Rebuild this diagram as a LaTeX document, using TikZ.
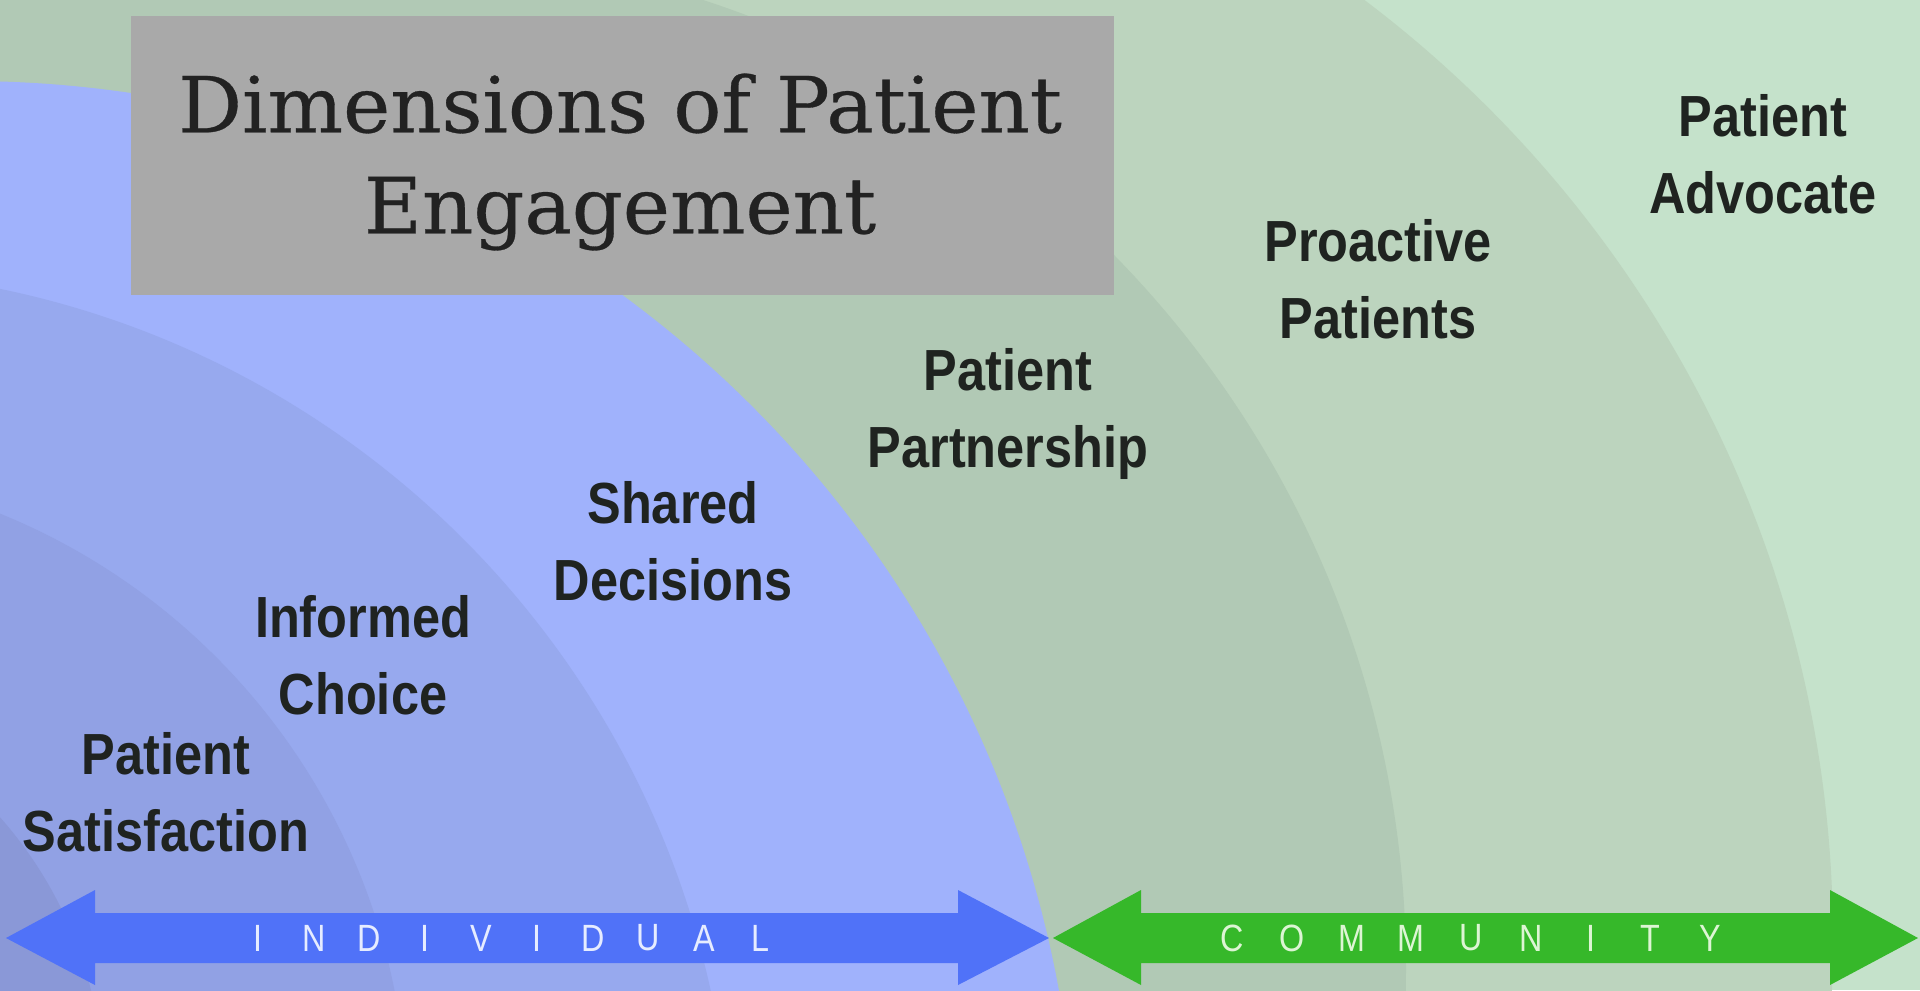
\documentclass[tikz,border=0pt]{standalone}
\usepackage{fontspec}
\usetikzlibrary{positioning,calc}
\setmainfont{Liberation Sans}
\newfontfamily\labelfont[FakeStretch=0.87]{Liberation Sans}
\newfontfamily\titlefont[FakeStretch=1.03,FakeBold=0.4]{DejaVu Serif}
\newfontfamily\capsfont[FakeStretch=0.85]{Liberation Sans}

\definecolor{greenC}{HTML}{C5E2CB}
\definecolor{greenB}{HTML}{BCD4BE}
\definecolor{greenA}{HTML}{B1C9B5}
\definecolor{blueA}{HTML}{A0B2FC}
\definecolor{blueB}{HTML}{97A9EE}
\definecolor{blueC}{HTML}{91A1E4}
\definecolor{blueD}{HTML}{8A98D7}
\definecolor{boxgray}{HTML}{A9A9A9}
\definecolor{indivarrow}{HTML}{5072F8}
\definecolor{commarrow}{HTML}{36B82A}
\definecolor{inktext}{HTML}{1F2320}
\definecolor{titleink}{HTML}{222222}
\definecolor{indivink}{HTML}{E6ECFF}
\definecolor{comminK}{HTML}{DDF5D4}

\begin{document}
\begin{tikzpicture}[x=0.01cm, y=-0.01cm,
      stage/.style     = {align=center, anchor=north, inner sep=0pt, text=inktext,
                          font=\labelfont\bfseries\fontsize{16.5}{21.9}\selectfont},
      spaced/.style    = {inner sep=0pt, font=\capsfont\fontsize{10.8}{12}\selectfont},
      titlebox/.style  = {fill=boxgray, minimum width=9.83cm, minimum height=2.79cm,
                          inner sep=0pt},
      titletext/.style = {align=center, inner sep=0pt, text=titleink,
                          font=\titlefont\fontsize{22}{28.7}\selectfont}
]
   \useasboundingbox (0,0) rectangle (1920,990);
   \clip (0,0) rectangle (1920,990);

   % community rings
   \fill[greenC] (0,0) rectangle (1920,990);
   \fill[greenB] (656,940) circle[radius=1177];
   \fill[greenA] (387,969) circle[radius=1019];
   \fill[greenA] (0,0) rectangle (300,120);

   % individual rings
   \fill[blueA] (-33,1191)  circle[radius=1110];
   \fill[blueB] (-186,1188) circle[radius=918];
   \fill[blueC] (-245,1118) circle[radius=652];
   \fill[blueD] (-307,1089) circle[radius=410];

   % title
   \node[titlebox]  (box)   at (622.5,155.5) {};
   \node[titletext] (title) at (620,162) {Dimensions of Patient\\Engagement};

   % stages
   \node[stage] (satisfaction) at (166,732)  {Patient\\Satisfaction};
   \node[stage] (informed)     at (363,595)  {Informed\\Choice};
   \node[stage] (shared)       at (673,481)  {Shared\\Decisions};
   \node[stage] (partnership)  at (1008,348) {Patient\\Partnership};
   \node[stage] (proactive)    at (1378,219) {Proactive\\Patients};
   \node[stage] (advocate)     at (1763,94)  {Patient\\Advocate};

   % individual arrow
   \fill[indivarrow] (6,938) -- (95,890) -- (95,913) -- (958,913) -- (958,890)
      -- (1049,938) -- (958,985) -- (958,963) -- (95,963) -- (95,985) -- cycle;
   \foreach \ch [count=\i from 0] in {I,N,D,I,V,I,D,U,A,L}
      \node[spaced, text=indivink] (ind\i) at (258+55.8*\i,938) {\ch};

   % community arrow
   \fill[commarrow] (1053,938) -- (1141,890) -- (1141,913) -- (1830,913) -- (1830,890)
      -- (1918,938) -- (1830,985) -- (1830,963) -- (1141,963) -- (1141,985) -- cycle;
   \foreach \ch [count=\i from 0] in {C,O,M,M,U,N,I,T,Y}
      \node[spaced, text=comminK] (com\i) at (1232+59.75*\i,938) {\ch};
\end{tikzpicture}
\end{document}
